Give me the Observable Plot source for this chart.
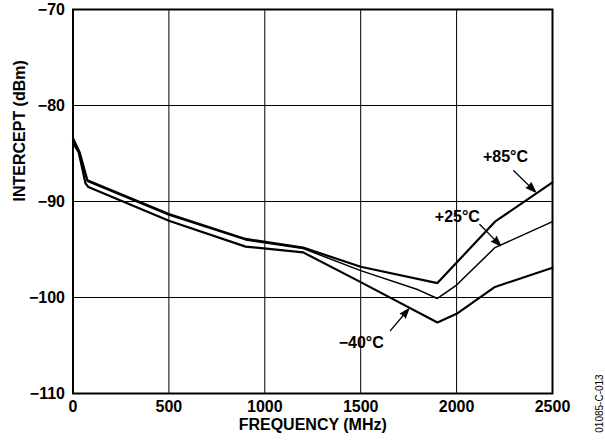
<!DOCTYPE html>
<html>
<head>
<meta charset="utf-8">
<script src="https://cdn.jsdelivr.net/npm/d3@7"></script>
<script src="https://cdn.jsdelivr.net/npm/@observablehq/plot@0.6"></script>
<style>
  html, body { margin: 0; padding: 0; background: #fff; }
</style>
</head>
<body>
<div id="chart"></div>
<script>
// ---- data ----
const freqHot = [0, 35, 75, 100, 500, 900, 1200, 1500, 1900, 2200, 2500];
const interceptHot = [-83.4, -84.9, -87.8, -88.0, -91.3, -93.9, -94.8, -96.8, -98.5, -92.1, -88.0];

const freqRoom = [0, 35, 75, 100, 500, 900, 1200, 1500, 1800, 1900, 2000, 2200, 2500];
const interceptRoom = [-83.5, -85.0, -87.9, -88.1, -91.4, -94.0, -94.9, -97.2, -99.2, -100.1, -98.7, -94.8, -92.1];

const freqCold = [0, 30, 65, 80, 500, 900, 1200, 1500, 1900, 2000, 2200, 2500];
const interceptCold = [-83.9, -84.9, -88.1, -88.5, -92.0, -94.7, -95.3, -98.4, -102.6, -101.7, -98.9, -96.9];

const xTicks = [0, 500, 1000, 1500, 2000, 2500];
const yTicks = [-110, -100, -90, -80, -70];

// annotations (data coordinates)
const labelText = ["+85°C", "+25°C", "\u221240°C"];
const labelFreq = [2255, 2004, 1503];
const labelIntercept = [-85.3, -91.55, -104.7];
const arrowFreqFrom = [2298, 2121, 1655];
const arrowIntFrom = [-86.8, -92.4, -103.45];
const arrowFreqTo = [2411, 2229, 1750];
const arrowIntTo = [-89.0, -94.6, -101.2];

const xLabel = "FREQUENCY (MHz)";
const yLabel = "INTERCEPT (dBm)";
const figureCode = "01085-C-013";

// ---- build tables ----
const toRows = (fs, vs) => fs.map((f, i) => ({f, v: vs[i]}));
const hot = toRows(freqHot, interceptHot);
const room = toRows(freqRoom, interceptRoom);
const cold = toRows(freqCold, interceptCold);
const labels = labelText.map((t, i) => ({t, f: labelFreq[i], v: labelIntercept[i]}));
const arrows = labelText.map((t, i) => ({
  x1: arrowFreqFrom[i], y1: arrowIntFrom[i], x2: arrowFreqTo[i], y2: arrowIntTo[i]
}));

const FS = 16;

const chart = Plot.plot({
  width: 605,
  height: 442,
  marginLeft: 72.5,
  marginRight: 53,
  marginTop: 9,
  marginBottom: 49,
  style: {
    fontFamily: "'Liberation Sans', Arial, Helvetica, sans-serif",
    fontSize: FS + "px",
    fontWeight: "bold",
    color: "black",
    background: "white",
    overflow: "visible"
  },
  x: {domain: [0, 2500]},
  y: {domain: [-110, -70]},
  marks: [
    Plot.gridX(xTicks, {stroke: "black", strokeOpacity: 1, strokeWidth: 1}),
    Plot.gridY(yTicks, {stroke: "black", strokeOpacity: 1, strokeWidth: 1}),
    Plot.axisX(xTicks, {tickSize: 0, tickPadding: 7, label: null, tickFormat: d => String(d)}),
    Plot.axisY(yTicks, {tickSize: 0, tickPadding: 8, label: null}),
    Plot.line(hot, {x: "f", y: "v", stroke: "black", strokeWidth: 2.2, strokeLinejoin: "miter"}),
    Plot.line(room, {x: "f", y: "v", stroke: "black", strokeWidth: 1.5, strokeLinejoin: "miter"}),
    Plot.line(cold, {x: "f", y: "v", stroke: "black", strokeWidth: 2.2, strokeLinejoin: "miter"}),
    Plot.frame({stroke: "black", strokeWidth: 2}),
    Plot.arrow(arrows, {
      x1: "x1", y1: "y1", x2: "x2", y2: "y2",
      stroke: "black", fill: "black", strokeWidth: 1.3,
      headLength: 13, headAngle: 40, insetStart: 0, insetEnd: 0
    }),
    Plot.text(labels, {x: "f", y: "v", text: "t", fill: "black", fontSize: FS, fontWeight: "bold"}),
    Plot.text([xLabel], {text: d => d, frameAnchor: "bottom", dy: 36, fill: "black", fontSize: FS, fontWeight: "bold"}),
    Plot.text([yLabel], {text: d => d, frameAnchor: "left", dx: -53, rotate: -90, fill: "black", fontSize: FS, fontWeight: "bold"}),
    Plot.text([figureCode], {text: d => d, frameAnchor: "bottom-right", dx: 47.5, dy: 10, rotate: -90,
      textAnchor: "middle", lineAnchor: "middle", fill: "black", fontSize: 10, fontWeight: "normal"})
  ]
});

document.getElementById("chart").appendChild(chart);
</script>
</body>
</html>
